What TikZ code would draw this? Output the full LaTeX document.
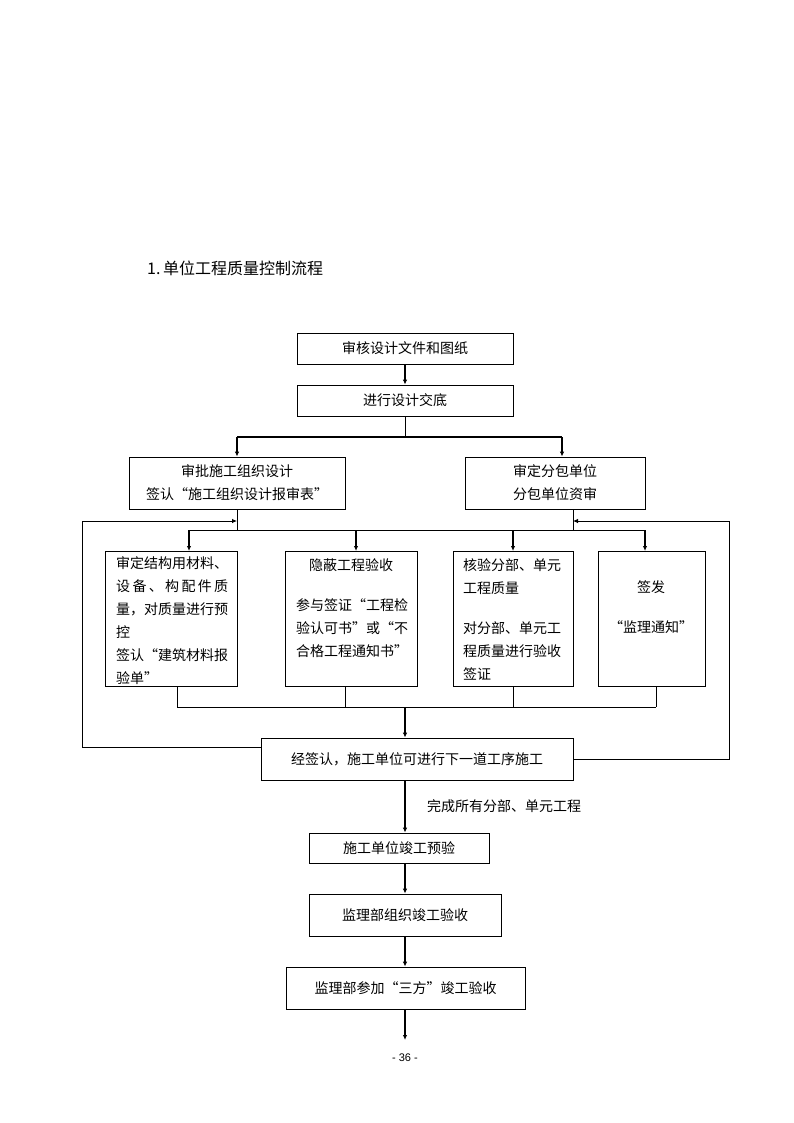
\documentclass[tikz,border=0pt]{standalone}
\usepackage{fontspec}
\setmainfont{Liberation Sans}
\newfontfamily\cjk{Noto Sans CJK SC}
\usetikzlibrary{arrows.meta,calc}
\tikzset{
  box/.style={draw, line width=0.8pt, rectangle, inner sep=0pt, font=\cjk\fontsize{14}{23}\selectfont, align=center},
  ln/.style={line width=0.8pt},
  arr/.style={line width=1.5pt, -{Latex[length=5pt,width=4.5pt]}},
  thk/.style={line width=1.5pt},
  txt/.style={font=\cjk\fontsize{14}{23}\selectfont, inner sep=0pt, align=left}
}
\begin{document}
\begin{tikzpicture}[x=1pt,y=-1pt]
\useasboundingbox (0,0) rectangle (794,1123);
% title
\node[anchor=west, inner sep=0pt, font=\cjk\fontsize{16}{18}\selectfont] (title) at (147,268) {1.\,单位工程质量控制流程};

% top boxes
\node[box, minimum width=216pt, minimum height=31pt] (b1) at (405,348.5) {审核设计文件和图纸};
\node[box, minimum width=216pt, minimum height=31pt] (b2) at (405,400.5) {进行设计交底};
\node[box, minimum width=216pt, minimum height=52pt] (b3) at (237,483) {审批施工组织设计\\签认“施工组织设计报审表”};
\node[box, minimum width=180pt, minimum height=52pt] (b4) at (555,483) {审定分包单位\\分包单位资审};

\draw[arr] (b1.south) -- (b2.north);
\coordinate (s1) at (405,437);
\draw[ln] (b2.south) -- (s1);
\draw[thk] (237,437) -- (562,437);
\draw[arr] (237,437) -- (b3.north);
\draw[arr] (562,437) -- (562,0 |- b4.north);

% second row boxes
\node[box, minimum width=132pt, minimum height=135pt, anchor=north west] (c1) at (105,551) {};
\node[box, minimum width=132pt, minimum height=135pt, anchor=north west] (c2) at (285,551) {};
\node[box, minimum width=120pt, minimum height=135pt, anchor=north west] (c3) at (453,551) {};
\node[box, minimum width=107pt, minimum height=135pt, anchor=north west] (c4) at (598,551) {};

\node[txt, anchor=north west] (t1) at (116,556) {审定结构用材料、\\\makebox[112pt][s]{设\hfil 备\hfil 、\hfil 构\hfil 配\hfil 件\hfil 质}\\量，对质量进行预\\控\\签认“建筑材料报\\验单”};
\node[txt, anchor=north, align=center] (t2a) at (351,558) {隐蔽工程验收};
\node[txt, anchor=north west] (t2b) at (296,598) {参与签证“工程检\\验认可书”或“不\\合格工程通知书”};
\node[txt, anchor=north west] (t3a) at (463,558) {核验分部、单元\\工程质量};
\node[txt, anchor=north west] (t3b) at (463,621) {对分部、单元工\\程质量进行验收\\签证};
\node[txt, anchor=north, align=center] (t4a) at (651,580) {签发};
\node[txt, anchor=north, align=center] (t4b) at (651,620) {“监理通知”};

% branch from b3/b4 to row
\coordinate (j1) at (237,521);
\coordinate (j2) at (573,521);
\draw[ln] (b3.south) -- (237,530);
\draw[ln] (573,0 |- b4.south) -- (573,530);
\draw[ln] (189,530) -- (645,530);
\draw[arr] (189,530) -- (189,0 |- c1.north);
\draw[arr] (356,530) -- (356,0 |- c2.north);
\draw[arr] (513,530) -- (513,0 |- c3.north);
\draw[arr] (645,530) -- (645,0 |- c4.north);

% merge below row
\draw[ln] (177,0 |- c1.south) -- (177,707);
\draw[ln] (345,0 |- c2.south) -- (345,707);
\draw[ln] (513,0 |- c3.south) -- (513,707);
\draw[ln] (656,0 |- c4.south) -- (656,707);
\draw[ln] (177,707) -- (656,707);

\node[box, minimum width=312pt, minimum height=42pt] (d) at (417,759) {经签认，施工单位可进行下一道工序施工};
\draw[arr] (405,707) -- (405,0 |- d.north);

% feedback loops
\coordinate (dl) at ($(d.north west)+(0,10)$);
\draw[ln, -{Latex[length=5pt,width=4.5pt]}] (dl) -- (82,0 |- dl) -- (82,521) -- (j1);
\draw[ln, -{Latex[length=5pt,width=4.5pt]}] (d.east) -- (729,759) -- (729,521) -- (j2);

% lower chain
\node[box, minimum width=180pt, minimum height=30pt] (e) at (399,848) {施工单位竣工预验};
\node[box, minimum width=192pt, minimum height=42pt] (f) at (405,915) {监理部组织竣工验收};
\node[box, minimum width=239pt, minimum height=42pt] (g) at (405.5,988) {监理部参加“三方”竣工验收};
\coordinate (end) at (405,1040);

\draw[arr] (405,0 |- d.south) -- (405,0 |- e.north);
\node[txt, anchor=west] (lbl) at (427,806) {完成所有分部、单元工程};
\draw[arr] (405,0 |- e.south) -- (f.north);
\draw[arr] (f.south) -- (405,0 |- g.north);
\draw[arr] (405,0 |- g.south) -- (end);

\node[font=\fontsize{11}{13}\selectfont, inner sep=0pt] (pg) at (405,1058) {- 36 -};
\end{tikzpicture}
\end{document}
